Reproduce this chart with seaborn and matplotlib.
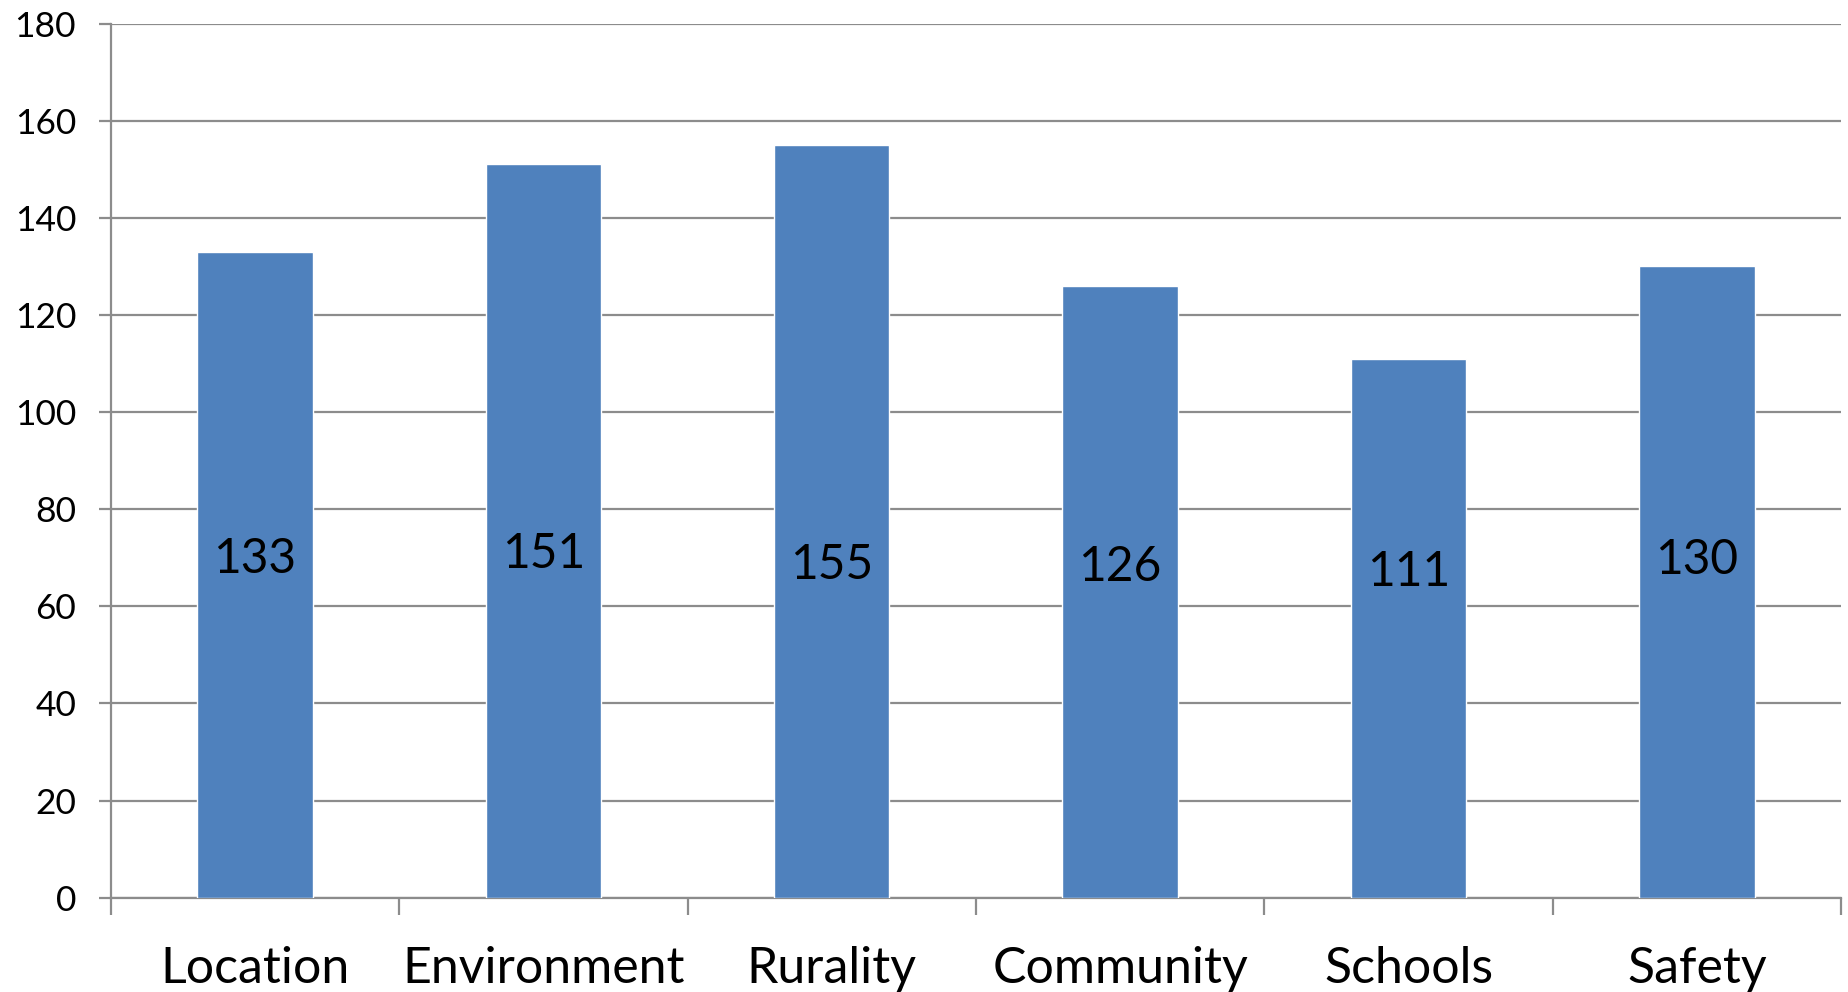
import pandas as pd
import matplotlib
matplotlib.use("Agg")
import matplotlib.pyplot as plt
import seaborn as sns

# data
categories = ["Location", "Environment", "Rurality", "Community", "Schools", "Safety"]
counts = [133, 151, 155, 126, 111, 130]
# height (in data units) where each number label sits inside the bar
label_y = [70.6, 71.6, 69.4, 68.9, 67.9, 70.4]
y_ticks = [0, 20, 40, 60, 80, 100, 120, 140, 160, 180]

df = pd.DataFrame({"category": categories, "count": counts})

sns.set_style("white")
plt.rcParams["font.family"] = ["Lato", "DejaVu Sans"]

grid_col = "#8c8c8c"
bar_col = "#4F81BD"

fig = plt.figure(figsize=(18.49, 9.92), dpi=100)
ax = fig.add_axes([0.0599, 0.0951, 0.9957 - 0.0599, 0.9762 - 0.0951])

sns.barplot(data=df, x="category", y="count", color=bar_col, width=0.4,
            saturation=1, ax=ax, zorder=3)

ax.set_ylim(0, 180)
ax.set_xlim(-0.5, len(categories) - 0.5)
ax.set_yticks(y_ticks)
ax.yaxis.grid(True, color=grid_col, linewidth=1.6, zorder=0)
ax.set_axisbelow(True)

for s in ["top", "right"]:
    ax.spines[s].set_visible(False)
for s in ["left", "bottom"]:
    ax.spines[s].set_color(grid_col)
    ax.spines[s].set_linewidth(1.6)

ax.tick_params(axis="y", length=9, width=1.6, color=grid_col, pad=16,
               labelsize=25.5, labelcolor="black", left=True)
ax.set_xticks(range(len(categories)))
ax.set_xticklabels(categories)
ax.set_xticks([i - 0.5 for i in range(len(categories) + 1)], minor=True)
ax.tick_params(axis="x", which="major", length=0, pad=35, labelsize=36,
               labelcolor="black")
ax.tick_params(axis="x", which="minor", length=12, width=1.6, color=grid_col,
               bottom=True)

ax.set_xlabel("")
ax.set_ylabel("")

for i, (v, ly) in enumerate(zip(counts, label_y)):
    ax.text(i, ly, str(v), ha="center", va="center_baseline", fontsize=34.5,
            color="black", zorder=4)

fig.savefig("out.png", dpi=100)
